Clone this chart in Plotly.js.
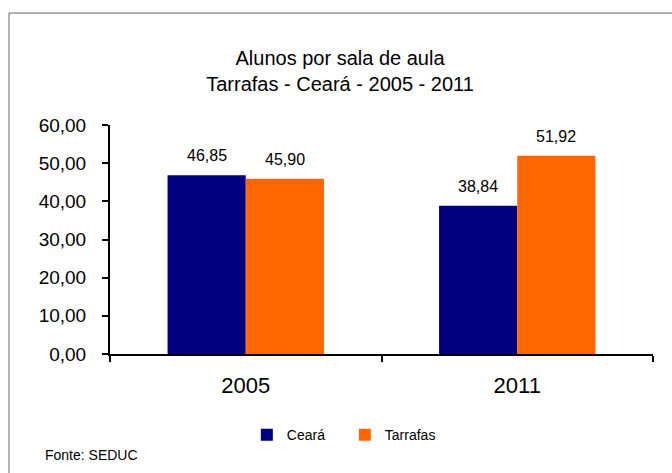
<!DOCTYPE html>
<html>
<head>
<meta charset="utf-8">
<script src="https://cdn.plot.ly/plotly-3.0.1.min.js"></script>
<style>html,body{margin:0;padding:0;background:#fff;}#chart{width:672px;height:473px;}</style>
</head>
<body>
<div id="chart"></div>
<script>
var categories = ["2005", "2011"];
var seriesNames = ["Ceará", "Tarrafas"];
var cearaValues = [46.85, 38.84];
var tarrafasValues = [45.90, 51.92];
var yTickValues = [0, 10, 20, 30, 40, 50, 60];
var chartTitle = "Alunos por sala de aula<br>Tarrafas - Ceará - 2005 - 2011";
var sourceText = "Fonte: SEDUC";

var FONT = "Liberation Sans, Arial, sans-serif";
var colors = ["#000080", "#FF6600"];
var allValues = [cearaValues, tarrafasValues];

var traces = allValues.map(function (vals, i) {
  return {
    type: "bar",
    name: seriesNames[i],
    x: categories,
    y: vals,
    marker: {color: colors[i], line: {width: 0}},
    hoverinfo: "none"
  };
});

function fmt(v) { return v.toFixed(2).replace(".", ","); }

var annotations = [];
allValues.forEach(function (vals, i) {
  vals.forEach(function (v, j) {
    annotations.push({
      x: j, y: v, xref: "x", yref: "y",
      text: fmt(v), showarrow: false,
      xshift: i === 0 ? -39 : 39, yshift: 9,
      yanchor: "bottom", xanchor: "center",
      font: {family: FONT, size: 16, color: "#000"}
    });
  });
});
annotations.push({
  xref: "paper", yref: "paper", x: -0.1234, y: -0.441,
  xanchor: "left", yanchor: "middle", showarrow: false,
  text: sourceText, font: {family: FONT, size: 14, color: "#000"}
});

var layout = {
  width: 672, height: 473,
  margin: {l: 110, r: 19, t: 125, b: 119, pad: 0},
  paper_bgcolor: "#fff", plot_bgcolor: "#fff",
  separators: ",.",
  font: {family: FONT, color: "#000"},
  title: {
    text: chartTitle,
    x: 0.506, xanchor: "center", xref: "container",
    y: 0.8626, yanchor: "middle", yref: "container",
    font: {family: FONT, size: 20, color: "#000"}
  },
  barmode: "group", bargap: 0.424, bargroupgap: 0,
  xaxis: {
    type: "category", range: [-0.5, 1.5],
    showline: true, linecolor: "#000", linewidth: 2,
    ticks: "outside", tickson: "boundaries", ticklen: 6, tickwidth: 2, tickcolor: "#000",
    showgrid: false, zeroline: false,
    tickfont: {family: FONT, size: 22, color: "#000"},
    tickangle: 0,
    ticklabelstandoff: 11,
    fixedrange: true
  },
  yaxis: {
    range: [0, 60], tickvals: yTickValues, tickformat: ".2f",
    showline: true, linecolor: "#000", linewidth: 2,
    ticks: "outside", ticklen: 6, tickwidth: 2, tickcolor: "#000",
    showgrid: false, zeroline: false,
    tickfont: {family: FONT, size: 19, color: "#000"},
    ticklabelstandoff: 12,
    fixedrange: true
  },
  showlegend: true,
  legend: {
    orientation: "h", x: 0.252, xanchor: "left", y: -0.284, yanchor: "top",
    font: {family: FONT, size: 14, color: "#000"},
    bgcolor: "rgba(0,0,0,0)", borderwidth: 0,
    entrywidth: 53,
    traceorder: "normal", itemclick: false, itemdoubleclick: false
  },
  annotations: annotations,
  shapes: [{
    type: "rect", xref: "paper", yref: "paper",
    x0: -0.186, x1: 1.05, y0: -0.55, y1: 1.489,
    line: {color: "#666", width: 1}, fillcolor: "rgba(0,0,0,0)", layer: "below"
  }]
};

Plotly.newPlot("chart", traces, layout, {displayModeBar: false, staticPlot: true});
</script>
</body>
</html>
